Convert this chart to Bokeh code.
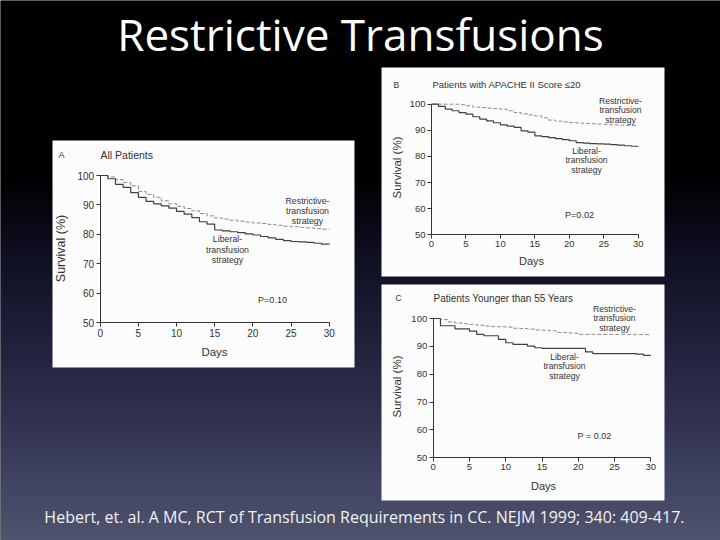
import numpy as np
from bokeh.plotting import figure
from bokeh.models import Range1d, LinearAxis, FixedTicker
from bokeh.core.properties import value
from bokeh.embed import file_html
from bokeh.resources import INLINE

# ---------------- data ----------------
DAY_TICKS = [0, 5, 10, 15, 20, 25, 30]
SURV_TICKS = [50, 60, 70, 80, 90, 100]
days = list(range(31))

a_restrictive = [100, 99.5, 98.6, 97.6, 96.5, 94.6, 93.6, 92.6, 91.4, 90.4, 89.5,
                 88.8, 88.0, 87.1, 86.3, 85.6, 85.2, 84.8, 84.5, 84.2, 83.9,
                 83.7, 83.4, 83.1, 82.8, 82.6, 82.4, 82.2, 82.0, 81.8, 81.7]
a_liberal = [100, 98.9, 97.0, 96.0, 94.2, 92.6, 91.2, 90.4, 89.7, 88.9, 87.8,
             86.9, 85.7, 84.3, 83.5, 81.5, 81.2, 80.9, 80.6, 80.2, 79.8,
             79.3, 78.8, 78.3, 77.9, 77.6, 77.5, 77.3, 77.0, 76.7, 76.6]

b_restrictive = [100, 100, 100, 100, 99.8, 99.4, 98.9, 98.7, 98.5, 98.3, 98.1,
                 97.5, 96.8, 96.3, 95.9, 95.5, 94.8, 93.9, 93.5, 93.2, 93.0,
                 92.8, 92.6, 92.5, 92.4, 92.3, 92.1, 92.0, 91.9, 91.8, 91.7]
b_liberal = [100, 99.2, 98.1, 97.5, 96.8, 96.2, 95.2, 94.3, 93.6, 92.9, 92.1,
             91.6, 91.1, 89.8, 89.3, 87.9, 87.6, 87.2, 86.8, 86.4, 86.0,
             85.3, 85.1, 84.9, 84.8, 84.7, 84.5, 84.3, 84.1, 83.9, 83.8]

c_restrictive = [100, 99.6, 98.8, 98.4, 98.1, 97.9, 97.6, 97.3, 97.1, 97.0, 96.9,
                 96.5, 96.4, 96.2, 95.9, 95.8, 95.6, 95.0, 94.9, 94.7, 94.3,
                 94.3, 94.3, 94.3, 94.3, 94.3, 94.3, 94.2, 94.2, 94.2, 94.2]
c_liberal = [100, 97.4, 97.4, 96.3, 96.3, 95.5, 94.3, 93.8, 93.8, 92.5, 91.3,
             90.7, 90.7, 90.1, 89.5, 89.3, 89.3, 89.3, 89.3, 89.3, 89.3,
             88.0, 87.4, 87.4, 87.4, 87.4, 87.4, 87.4, 87.2, 86.8, 86.8]

TITLE = "Restrictive Transfusions"
CITATION = "Hebert, et. al. A MC, RCT of Transfusion Requirements in CC.  NEJM 1999; 340: 409-417."
RESTR_LABEL = ["Restrictive-", "transfusion", "strategy"]
LIBER_LABEL = ["Liberal-", "transfusion", "strategy"]

# ---------------- figure ----------------
W, H = 720, 540
p = figure(width=W, height=H, x_range=Range1d(0, W), y_range=Range1d(H, 0),
           output_backend="svg", toolbar_location=None, min_border=0,
           x_axis_location=None, y_axis_location=None)
p.grid.visible = False
p.outline_line_color = None
p.background_fill_color = "black"
p.border_fill_color = "black"

# background gradient (decoration)
stops_y = [0, 180, 250, 330, 420, 480, 540]
stops_c = [(0, 0, 0), (0, 0, 3), (14, 14, 32), (30, 30, 56), (48, 50, 80), (64, 67, 97), (80, 84, 110)]
ys = np.arange(0, H, 2)
cols = []
for yy in ys + 1:
    rgb = [int(round(np.interp(yy, stops_y, [c[k] for c in stops_c]))) for k in range(3)]
    cols.append("#%02x%02x%02x" % tuple(rgb))
p.quad(left=0, right=W, top=ys, bottom=ys + 2.6, fill_color=cols, line_color=None)

FONT = "Liberation Sans"
INK = "#333333"


def txt(x, y, s, size, align="left", color=INK, angle=0.0, font=FONT, style="normal",
        baseline="middle"):
    p.text(x=[x], y=[y], text=[s], text_font=value(font), text_font_size=f"{size}px",
           text_align=align, text_baseline=baseline, text_color=color, angle=angle,
           text_font_style=style)


extra_x, extra_y = {}, {}


def style_axis(ax, size):
    ax.axis_line_color = INK
    ax.axis_line_width = 1
    ax.major_tick_line_color = INK
    ax.major_tick_out = 4
    ax.major_tick_in = 0
    ax.minor_tick_line_color = None
    ax.major_label_text_font = FONT
    ax.major_label_text_font_size = f"{size}px"
    ax.major_label_text_color = INK
    ax.major_label_standoff = 2


def add_panel(name, box, px0, px30, py100, py50, restr, liber, tick_size):
    l, t, r, b = box
    p.quad(left=l, right=r, top=t, bottom=b, fill_color="#fcfcfc", line_color=None)
    sx = (px30 - px0) / 30.0
    sy = (py50 - py100) / 50.0
    xn, yn = name + "_x", name + "_y"
    extra_x[xn] = Range1d(-px0 / sx, (W - px0) / sx)
    extra_y[yn] = Range1d(50 + (py50 - H) / sy, 50 + py50 / sy)

    xa = LinearAxis(x_range_name=xn, y_range_name=yn, fixed_location=50, bounds=(0, 30),
                    ticker=FixedTicker(ticks=DAY_TICKS))
    style_axis(xa, tick_size)
    p.add_layout(xa, "below")
    ya = LinearAxis(x_range_name=xn, y_range_name=yn, fixed_location=0, bounds=(50, 100),
                    ticker=FixedTicker(ticks=SURV_TICKS))
    style_axis(ya, tick_size)
    p.add_layout(ya, "left")

    p.step(days, restr, mode="after", x_range_name=xn, y_range_name=yn,
           line_color="#8a8a8a", line_width=1, line_dash="4 2")
    p.step(days, liber, mode="after", x_range_name=xn, y_range_name=yn,
           line_color="#404040", line_width=1.2)


# Panel A
add_panel("A", (52, 140, 354, 367), 99.7, 328.7, 175.0, 322.3, a_restrictive, a_liberal, 10)
txt(58, 154, "A", 9)
txt(100, 154, "All Patients", 10.5)
txt(214, 351, "Days", 11.5, align="center")
txt(60, 248, "Survival (%)", 12.5, align="center", angle=np.pi / 2)
for i, s in enumerate(RESTR_LABEL):
    txt(307, 200 + 10 * i, s, 8.8, align="center")
for i, s in enumerate(LIBER_LABEL):
    txt(227, 238.5 + 10.5 * i, s, 8.8, align="center")
txt(272, 299, "P=0.10", 9, align="center")

# Panel B
add_panel("B", (381, 67, 664, 276), 431.0, 637.7, 103.7, 234.3, b_restrictive, b_liberal, 9.5)
txt(393, 84, "B", 8.5)
txt(432, 84, "Patients with APACHE II Score \u226420", 9.5)
txt(531, 260, "Days", 11, align="center")
txt(396, 167, "Survival (%)", 11.5, align="center", angle=np.pi / 2)
for i, s in enumerate(RESTR_LABEL):
    txt(620, 100 + 9.5 * i, s, 8.6, align="center")
for i, s in enumerate(LIBER_LABEL):
    txt(586, 150 + 9.5 * i, s, 8.6, align="center")
txt(579, 214, "P=0.02", 9, align="center")

# Panel C
add_panel("C", (381, 284, 664, 500), 432.7, 650.3, 318.0, 457.3, c_restrictive, c_liberal, 9.5)
txt(395, 297, "C", 8.5)
txt(433, 298, "Patients Younger than 55 Years", 10)
txt(543, 485, "Days", 11, align="center")
txt(396, 386, "Survival (%)", 11.5, align="center", angle=np.pi / 2)
for i, s in enumerate(RESTR_LABEL):
    txt(614, 308 + 9.5 * i, s, 8.6, align="center")
for i, s in enumerate(LIBER_LABEL):
    txt(564, 356 + 9.5 * i, s, 8.6, align="center")
txt(594, 435, "P = 0.02", 9, align="center")

p.extra_x_ranges = extra_x
p.extra_y_ranges = extra_y

# slide title and citation
txt(360, 33, TITLE, 44, align="center", color="#ffffff", font="Open Sans")
txt(366, 516, CITATION, 16, align="center", color="#f2f2f2", font="Open Sans")

open("out.html", "w").write(file_html(p, INLINE))
